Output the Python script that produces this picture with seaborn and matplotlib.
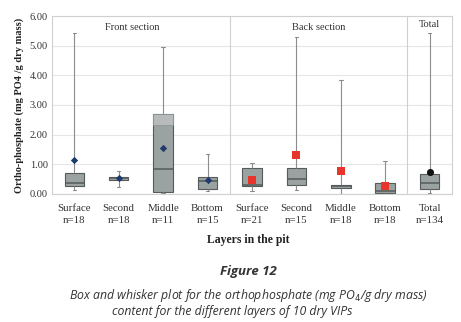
import numpy as np
import pandas as pd
import matplotlib
matplotlib.use("Agg")
import matplotlib.pyplot as plt
import seaborn as sns

# ---- data ----
layers = ["Surface", "Second", "Middle", "Bottom",
          "Surface", "Second", "Middle", "Bottom", "Total"]
counts = [18, 18, 11, 15, 21, 15, 18, 18, 134]
sections = ["Front", "Front", "Front", "Front",
            "Back", "Back", "Back", "Back", "Total"]
whisk_low = [0.13, 0.22, 0.03, 0.08, 0.10, 0.13, 0.00, 0.00, 0.03]
q1 = [0.25, 0.47, 0.05, 0.17, 0.28, 0.29, 0.20, 0.02, 0.16]
median = [0.38, 0.52, 0.83, 0.45, 0.31, 0.49, 0.25, 0.10, 0.37]
q3 = [0.70, 0.57, 2.68, 0.57, 0.86, 0.86, 0.30, 0.36, 0.68]
whisk_high = [5.42, 0.78, 4.95, 1.33, 1.03, 5.30, 3.84, 1.10, 5.42]
means = [1.13, 0.52, 1.54, 0.48, 0.47, 1.30, 0.78, 0.26, 0.75]
middle_upper_from = 2.33  # lighter upper segment of the front "Middle" box
section_titles = ["Front section", "Back section", "Total"]

cats = [f"{l}\nn={n}" for l, n in zip(layers, counts)]

# five-number rows reproduce the box exactly with whis=inf
rows = []
for c, lo, a, m, b, hi in zip(cats, whisk_low, q1, median, q3, whisk_high):
    for v in (lo, a, m, b, hi):
        rows.append({"cat": c, "value": v})
df = pd.DataFrame(rows)
mdf = pd.DataFrame({"cat": cats, "mean": means, "section": sections})

sns.set_theme(style="white")
serif = "Liberation Serif"

fig = plt.figure(figsize=(4.61, 3.22), dpi=100)
ax = fig.add_axes([0.113, 0.398, 0.867, 0.552])

BOX = "#9aa3a2"
EDGE = "#555b5a"
WH = "#8c8c8c"
BW = 0.44
sns.boxplot(data=df, x="cat", y="value", order=cats, whis=np.inf,
            width=BW, color=BOX, saturation=1, ax=ax,
            boxprops=dict(facecolor=BOX, edgecolor=EDGE, linewidth=0.8),
            medianprops=dict(color=EDGE, linewidth=1.1),
            whiskerprops=dict(color=WH, linewidth=0.8),
            capprops=dict(color=WH, linewidth=0.8))
for line in ax.lines:
    xd = line.get_xdata()
    if len(xd) == 2 and xd[0] != xd[1] and line.get_color() == WH:
        mid = (xd[0] + xd[1]) / 2
        line.set_xdata([mid - 0.04, mid + 0.04])

# lighter upper part of the front Middle box
ax.bar([2], [q3[2] - middle_upper_from], bottom=[middle_upper_from],
       width=BW, color="#b8bbbb", edgecolor="#8f9595", linewidth=0.6,
       zorder=3)

# means
styles = {"Front": dict(marker="D", color="#1f3a6e", s=14),
          "Back": dict(marker="s", color="#e8352b", s=28),
          "Total": dict(marker="o", color="#111111", s=26)}
for sec, st in styles.items():
    sns.stripplot(data=mdf[mdf["section"] == sec], x="cat", y="mean",
                  order=cats, jitter=False, marker=st["marker"],
                  color=st["color"], size=np.sqrt(st["s"]), linewidth=0,
                  ax=ax, zorder=5)

ax.set_ylim(0, 6)
ax.set_xlim(-0.5, 8.5)
ax.set_yticks(np.arange(0, 7, 1))
ax.set_yticklabels([f"{v:.2f}" for v in np.arange(0, 7, 1)],
                   fontfamily=serif, fontsize=7.5, color="#333333")
ax.set_xticks(range(len(cats)))
ax.set_xticklabels(cats, fontfamily=serif, fontsize=7.8, color="#333333",
                   linespacing=1.5)
ax.tick_params(axis="y", length=0, pad=3)
ax.tick_params(axis="x", length=0, pad=7)
ax.yaxis.grid(True, color="#e6e6e6", linewidth=0.8)
ax.set_axisbelow(True)
for s in ax.spines.values():
    s.set_color("#d0d0d0")
    s.set_linewidth(0.8)
ax.axvline(3.5, color="#d0d0d0", linewidth=0.8)
ax.axvline(7.5, color="#d0d0d0", linewidth=0.8)

ax.text(1.3, 5.62, section_titles[0], ha="center", va="center",
        fontfamily=serif, fontsize=7.5, color="#333333")
ax.text(5.5, 5.62, section_titles[1], ha="center", va="center",
        fontfamily=serif, fontsize=7.5, color="#333333")
ax.text(8.0, 5.7, section_titles[2], ha="center", va="center",
        fontfamily=serif, fontsize=7.5, color="#333333")

ax.set_xlabel("Layers in the pit", fontfamily=serif, fontsize=8.5,
              fontweight="bold", color="#222222")
ax.xaxis.set_label_coords((248 - 52) / 400, -(234 - 194) / 178)
ax.set_ylabel("Ortho-phosphate (mg PO4 /g dry mass)", fontfamily=serif,
              fontsize=7.5, fontweight="bold", color="#222222", labelpad=4)

fig.text(248 / 461, 1 - 272 / 322, "Figure 12", ha="center", va="center",
         fontfamily="Open Sans", fontstyle="italic", fontweight="bold",
         fontsize=9.5, color="#333333")
fig.text(248 / 461, 1 - 295 / 322,
         "Box and whisker plot for the orthophosphate (mg PO$_4$/g dry mass)",
         ha="center", va="center", fontfamily="Open Sans", fontstyle="italic",
         fontsize=8.8, color="#333333")
fig.text(232 / 461, 1 - 311 / 322,
         "content for the different layers of 10 dry VIPs",
         ha="center", va="center", fontfamily="Open Sans", fontstyle="italic",
         fontsize=8.8, color="#333333")

fig.savefig("out.png", dpi=100)
